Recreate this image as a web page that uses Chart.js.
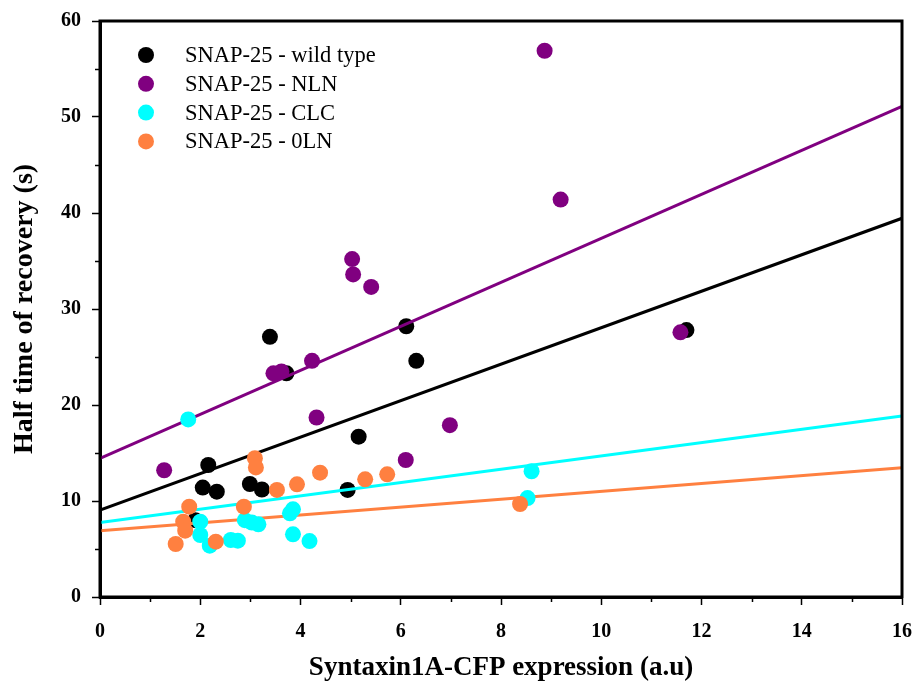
<!DOCTYPE html>
<html>
<head>
<meta charset="utf-8">
<script src="https://cdn.jsdelivr.net/npm/chart.js@4"></script>
<style>
  html, body { margin: 0; padding: 0; background: #fff; }
  #wrap { width: 915px; height: 684px; }
</style>
</head>
<body>
<div id="wrap"><canvas id="chart-1"></canvas></div>
<script>
// data
const wtX = [3.39, 6.11, 6.31, 3.72, 11.70, 5.16, 2.16, 2.05, 2.33, 2.99, 3.23, 4.94, 1.90];
const wtY = [27.1, 28.2, 24.6, 23.3, 27.8, 16.7, 13.75, 11.4, 10.97, 11.77, 11.2, 11.15, 8.0];

const nlnX = [8.87, 9.19, 5.03, 5.05, 5.41, 11.58, 4.23, 3.46, 3.62, 4.32, 6.98, 6.10, 1.28];
const nlnY = [56.9, 41.4, 35.2, 33.6, 32.3, 27.57, 24.6, 23.3, 23.5, 18.7, 17.9, 14.27, 13.2];

const clcX = [1.76, 8.61, 8.53, 2.0, 2.0, 2.19, 2.61, 2.75, 2.89, 3.03, 3.16, 3.79, 3.85, 3.85, 4.18];
const clcY = [18.5, 13.1, 10.3, 7.85, 6.46, 5.35, 5.94, 5.87, 8.0, 7.75, 7.57, 8.72, 9.13, 6.53, 5.83];

const olnX = [3.09, 3.11, 3.53, 3.93, 4.39, 5.29, 5.73, 1.78, 1.66, 1.70, 1.51, 2.31, 2.87, 8.38];
const olnY = [14.45, 13.5, 11.15, 11.74, 12.95, 12.26, 12.78, 9.41, 7.85, 6.91, 5.52, 5.76, 9.41, 9.69];

// regression lines, ends at x = 0 and x = 16
const fitX = [0, 16];
const fitWT = [9.06, 39.45];
const fitNLN = [14.45, 51.1];
const fitCLC = [7.75, 18.85];
const fitOLN = [6.9, 13.47];

const labels = ['SNAP-25 - wild type', 'SNAP-25 - NLN', 'SNAP-25 - CLC', 'SNAP-25 - 0LN'];
const colors = ['#000000', '#800080', '#00FFFF', '#FF8040'];

const serif = '"Liberation Serif", "Times New Roman", serif';

const pts = (xs, ys) => xs.map((x, i) => ({ x: x, y: ys[i] }));

function dots(i, xs, ys, order) {
    return {
        label: labels[i],
        data: pts(xs, ys),
        backgroundColor: colors[i],
        borderColor: colors[i],
        borderWidth: 0,
        pointRadius: 8,
        pointHoverRadius: 8,
        order: order
    };
}
function fit(i, ys) {
    return {
        label: labels[i] + ' fit',
        data: pts(fitX, ys),
        showLine: true,
        borderColor: colors[i],
        borderWidth: 3,
        pointRadius: 0,
        fill: false,
        order: 3
    };
}

// box, minor ticks and the legend
const extras = {
    id: 'extras',
    afterDatasetsDraw(chart) {
        const ctx = chart.ctx;
        const a = chart.chartArea;
        const xs = chart.scales.x, ys = chart.scales.y;
        ctx.save();
        ctx.strokeStyle = '#000';
        ctx.lineWidth = 1.5;
        for (let v = 5; v < 60; v += 10) {
            const p = Math.round(ys.getPixelForValue(v)) + 0.5;
            ctx.beginPath(); ctx.moveTo(a.left - 5, p); ctx.lineTo(a.left, p); ctx.stroke();
        }
        for (let v = 1; v < 16; v += 2) {
            const p = Math.round(xs.getPixelForValue(v)) + 0.5;
            ctx.beginPath(); ctx.moveTo(p, a.bottom); ctx.lineTo(p, a.bottom + 5); ctx.stroke();
        }
        ctx.lineWidth = 3;
        ctx.strokeRect(a.left, a.top, a.right - a.left, a.bottom - a.top);

        ctx.font = '22.5px ' + serif;
        ctx.textBaseline = 'middle';
        labels.forEach((t, i) => {
            const y = 55 + i * 28.8;
            ctx.fillStyle = colors[i];
            ctx.beginPath(); ctx.arc(146, y, 8, 0, Math.PI * 2); ctx.fill();
            ctx.fillStyle = '#000';
            ctx.fillText(t, 185, y + 1);
        });
        ctx.restore();
    }
};

const config = {
    type: 'scatter',
    data: {
        datasets: [
            dots(0, wtX, wtY, 5),
            dots(1, nlnX, nlnY, 4),
            dots(2, clcX, clcY, 2),
            dots(3, olnX, olnY, 1),
            fit(0, fitWT),
            fit(1, fitNLN),
            fit(2, fitCLC),
            fit(3, fitOLN)
        ]
    },
    options: {
        responsive: true,
        maintainAspectRatio: false,
        animation: false,
        layout: { padding: { top: 21, right: 13, left: 0, bottom: 0 } },
        plugins: {
            legend: { display: false },
            tooltip: { enabled: false }
        },
        scales: {
            x: {
                type: 'linear',
                min: 0, max: 16,
                ticks: {
                    stepSize: 2,
                    color: '#000',
                    padding: 15,
                    font: { family: serif, size: 20, weight: 'bold' }
                },
                grid: { drawOnChartArea: false, drawTicks: true, tickLength: 8, tickColor: '#000', tickWidth: 1.5 },
                border: { display: true, color: '#000', width: 3 },
                title: {
                    display: true,
                    text: 'Syntaxin1A-CFP expression (a.u)',
                    color: '#000',
                    font: { family: serif, size: 27, weight: 'bold', lineHeight: '24px' }
                },
                afterFit(scale) {
                    scale.height = 87;
                    scale.paddingLeft = 0;
                    scale.paddingRight = 0;
                }
            },
            y: {
                type: 'linear',
                min: 0, max: 60,
                ticks: {
                    stepSize: 10,
                    color: '#000',
                    padding: 11,
                    font: { family: serif, size: 20, weight: 'bold' }
                },
                grid: { drawOnChartArea: false, drawTicks: true, tickLength: 8, tickColor: '#000', tickWidth: 1.5 },
                border: { display: true, color: '#000', width: 3 },
                title: {
                    display: true,
                    text: 'Half time of recovery (s)',
                    color: '#000',
                    font: { family: serif, size: 28, weight: 'bold', lineHeight: '42px' }
                },
                afterFit(scale) {
                    scale.width = 100;
                    scale.paddingTop = 0;
                    scale.paddingBottom = 0;
                }
            }
        }
    },
    plugins: [extras]
};

const ctx = document.getElementById('chart-1').getContext('2d');
new Chart(ctx, config);
</script>
</body>
</html>
